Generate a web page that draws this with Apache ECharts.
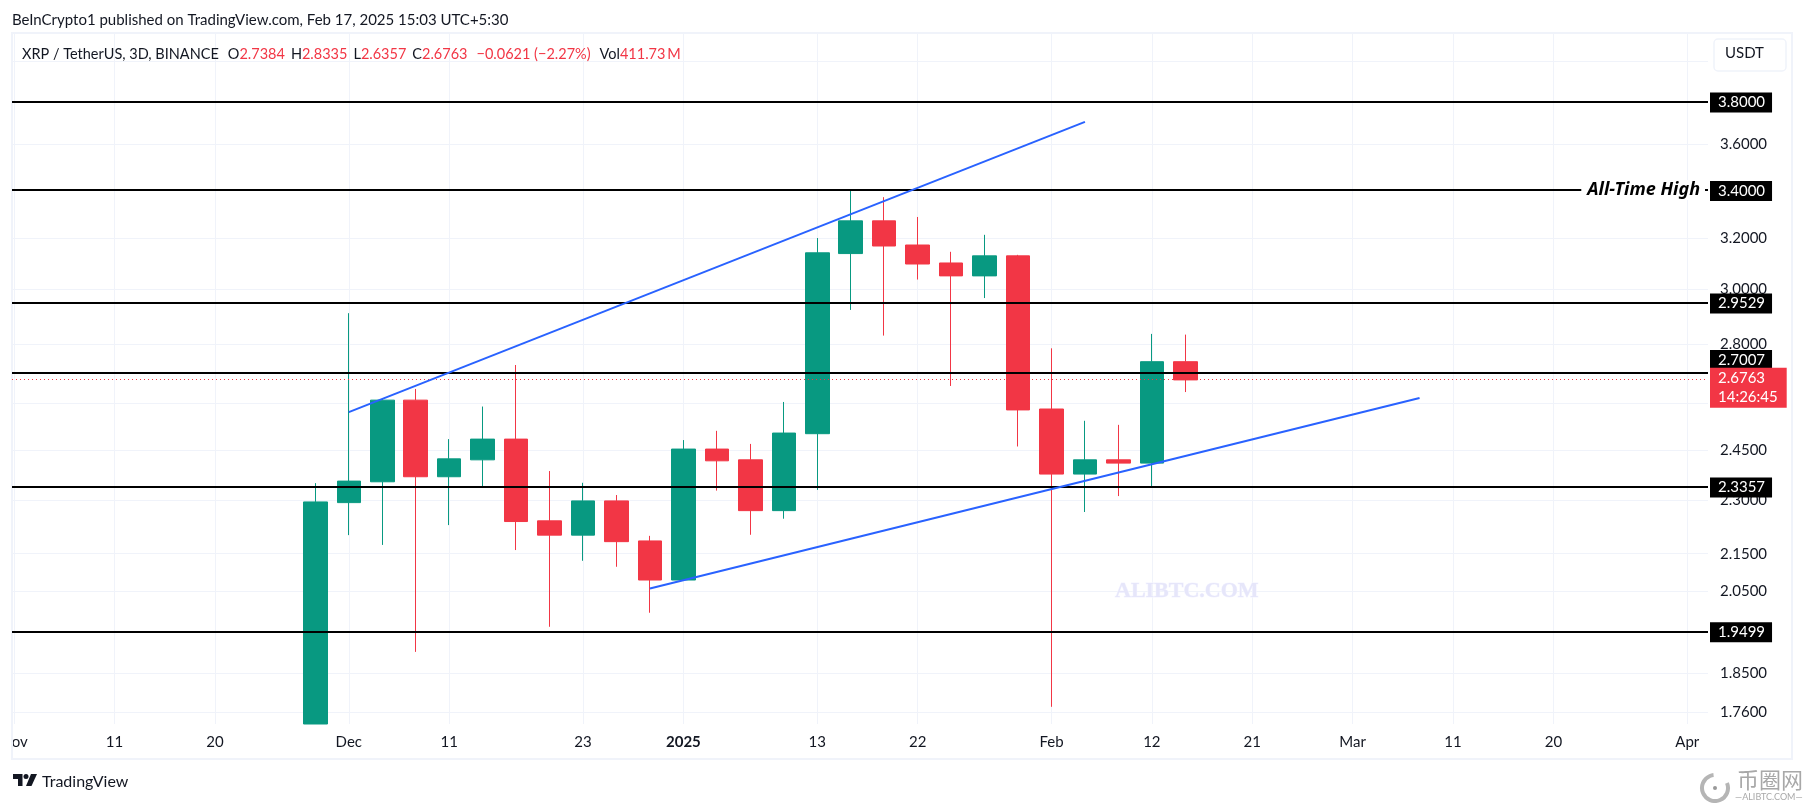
<!DOCTYPE html>
<html>
<head>
<meta charset="utf-8">
<title>XRP / TetherUS</title>
<style>
html, body { margin: 0; padding: 0; background: #fff; }
#chart_1 { width: 1804px; height: 803px; }
</style>
<script src="https://cdn.jsdelivr.net/npm/echarts@6/dist/echarts.min.js"></script>
</head>
<body>
<div id="chart_1"></div>
<script>
// 3D bars (first bar runs off the bottom of the pane)
var opens = [1.735, 2.293, 2.354, 2.609, 2.369, 2.420, 2.484, 2.241, 2.201, 2.298, 2.185, 2.080, 2.453, 2.420, 2.270, 2.501, 3.138, 3.270, 3.172, 3.101, 3.051, 3.129, 2.580, 2.377, 2.420, 2.410, 2.7384];
var closes = [2.295, 2.356, 2.609, 2.369, 2.423, 2.484, 2.239, 2.201, 2.298, 2.183, 2.080, 2.453, 2.417, 2.270, 2.503, 3.141, 3.270, 3.168, 3.097, 3.051, 3.129, 2.577, 2.377, 2.420, 2.410, 2.7384, 2.6763];
var lows = [1.735, 2.201, 2.174, 1.900, 2.229, 2.338, 2.160, 1.961, 2.131, 2.115, 1.996, 2.078, 2.328, 2.202, 2.247, 2.330, 2.923, 2.830, 3.037, 2.656, 2.967, 2.461, 1.773, 2.266, 2.312, 2.340, 2.6357];
var highs = [2.350, 2.911, 2.615, 2.646, 2.484, 2.588, 2.727, 2.386, 2.351, 2.315, 2.199, 2.481, 2.510, 2.469, 2.603, 3.200, 3.400, 3.369, 3.286, 3.145, 3.213, 3.133, 2.785, 2.542, 2.529, 2.836, 2.8335];

// time scale, counted in bars from the first candle
var barMin = -9.065;
var barMax = 41.62;
var tickBars = [-9, -6, -3, 1, 4, 8, 11, 15, 18, 22, 25, 28, 31, 34, 37, 41];
var tickLabels = ["Nov", "11", "20", "Dec", "11", "23", "2025", "13", "22", "Feb", "12", "21", "Mar", "11", "20", "Apr"];

// price scale
var priceMin = 1.735;
var priceMax = 4.143;
var gridPrices = [4.0, 3.8, 3.6, 3.4, 3.2, 3.0, 2.8, 2.6, 2.45, 2.3, 2.15, 2.05, 1.95, 1.85, 1.76];
var labelPrices = [3.6, 3.2, 3.0, 2.8, 2.45, 2.3, 2.15, 2.05, 1.85, 1.76];
var levelPrices = [3.8, 3.4, 2.9529, 2.7007, 2.3357, 1.9499];
var lastPrice = 2.6763;
var countdown = "14:26:45";

// trend lines
var upperBars = [1, 23];
var upperPrices = [2.570, 3.704];
var lowerBars = [10, 33];
var lowerPrices = [2.058, 2.616];

var FONT = "Lato";
var TEXT = "#131722";
var GREEN = "#089981";
var RED = "#F23645";

function buildCandles() {
	var list = [];
	for (var i = 0; i < opens.length; i++) {
		list.push([i, opens[i], closes[i], lows[i], highs[i]]);
	}
	return list;
}

function buildLine(bars, prices) {
	var list = [];
	for (var i = 0; i < bars.length; i++) {
		list.push([bars[i], prices[i]]);
	}
	return list;
}

function buildLevels() {
	var list = [];
	for (var i = 0; i < levelPrices.length; i++) {
		list.push({
			yAxis: levelPrices[i],
			lineStyle: { color: "#000", width: 2, type: "solid" },
			label: {
				show: true,
				position: "end",
				distance: 2,
				formatter: levelPrices[i].toFixed(4),
				color: "#fff",
				fontFamily: FONT,
				fontSize: 15,
				lineHeight: 15,
				backgroundColor: "#000",
				padding: [3, 7, 2, 8],
				offset: levelPrices[i] == 2.7007 ? [0, -13] : [0, 1]
			}
		});
	}
	// 标注文字盖在3.4线上
	list.push({
		yAxis: 3.4,
		lineStyle: { color: "#000", width: 2, type: "solid" },
		label: {
			show: true,
			position: "insideEnd",
			distance: 3,
			formatter: "All-Time High",
			color: "#000",
			fontFamily: "Noto Sans",
			fontSize: 18,
			fontStyle: "italic",
			fontWeight: "bold",
			backgroundColor: "#fff",
			padding: [1, 5, 1, 6]
		}
	});
	// 现价
	list.push({
		yAxis: lastPrice,
		lineStyle: { color: RED, width: 1, type: [1, 3] },
		label: {
			show: true,
			position: "end",
			distance: 2,
			formatter: "{p|" + lastPrice.toFixed(4) + "}\n{t|" + countdown + "}",
			backgroundColor: RED,
			padding: [1, 9, 1, 8],
			offset: [0, 9],
			rich: {
				p: { color: "#fff", fontFamily: FONT, fontSize: 15, lineHeight: 19 },
				t: { color: "#fff", fontFamily: FONT, fontSize: 15, lineHeight: 19 }
			}
		}
	});
	return list;
}

var legendText = "{k|XRP / TetherUS, 3D, BINANCE}{w|}{k|O}{v|2.7384}{g|}{k|H}{v|2.8335}{g|}{k|L}{v|2.6357}{g|}{k|C}{v|2.6763}{w|}{v|\u22120.0621 (\u22122.27%)}{w|}{k|Vol}{v|411.73\u2009M}";

var option = {
	animation: false,
	backgroundColor: "#fff",
	title: [{
		text: "BeInCrypto1 published on TradingView.com, Feb 17, 2025 15:03 UTC+5:30",
		left: 12,
		top: 13,
		padding: 0,
		textStyle: { color: TEXT, fontFamily: FONT, fontSize: 15, fontWeight: "normal" }
	}, {
		text: legendText,
		left: 22,
		top: 45,
		padding: 0,
		textStyle: {
			fontWeight: "normal",
			rich: {
				k: { color: TEXT, fontFamily: FONT, fontSize: 14.5, fontWeight: "normal" },
				v: { color: RED, fontFamily: FONT, fontSize: 14.5, fontWeight: "normal" },
				g: { width: 6 },
				w: { width: 9 }
			}
		}
	}],
	grid: { left: 12, top: 33, right: 96, bottom: 79, outerBoundsMode: "none" },
	xAxis: {
		type: "value",
		min: barMin,
		max: barMax,
		axisLine: { show: false },
		axisTick: { show: false, customValues: tickBars },
		splitLine: { show: true, lineStyle: { color: "#F0F3FA", width: 1 } },
		axisLabel: {
			customValues: tickBars,
			margin: 11,
			color: TEXT,
			fontFamily: FONT,
			fontSize: 15,
			formatter: function(val) {
				var text = tickLabels[tickBars.indexOf(val)];
				return text == "2025" ? "{b|" + text + "}" : text;
			},
			rich: {
				b: { color: TEXT, fontFamily: FONT, fontSize: 15, fontWeight: "bold" }
			}
		}
	},
	yAxis: {
		type: "log",
		position: "right",
		min: priceMin,
		max: priceMax,
		axisLine: { show: false },
		axisTick: { show: false, customValues: gridPrices },
		splitLine: { show: true, lineStyle: { color: "#F0F3FA", width: 1 } },
		minorSplitLine: { show: false },
		axisLabel: {
			customValues: labelPrices,
			margin: 12,
			color: TEXT,
			fontFamily: FONT,
			fontSize: 15,
			formatter: function(val) {
				return val.toFixed(4);
			}
		}
	},
	series: [{
		type: "candlestick",
		data: buildCandles(),
		encode: { x: 0, y: [1, 2, 3, 4] },
		barWidth: 24,
		silent: true,
		itemStyle: { color: GREEN, color0: RED, borderColor: GREEN, borderColor0: RED, borderWidth: 1 }
	}, {
		type: "line",
		data: [],
		silent: true,
		z: 4,
		markLine: { silent: true, symbol: "none", animation: false, data: buildLevels() }
	}, {
		type: "line",
		data: buildLine(upperBars, upperPrices),
		showSymbol: false,
		silent: true,
		z: 5,
		lineStyle: { color: "#2962FF", width: 2 }
	}, {
		type: "line",
		data: buildLine(lowerBars, lowerPrices),
		showSymbol: false,
		silent: true,
		z: 5,
		lineStyle: { color: "#2962FF", width: 2 }
	}],
	graphic: [
		// 外框
		{ type: "rect", silent: true, z: 3, shape: { x: 12, y: 33, width: 1780, height: 726 }, style: { fill: "none", stroke: "#F0F3FA", lineWidth: 2 } },
		// 盖住 Nov 左半
		{ type: "rect", silent: true, z: 2, shape: { x: 0, y: 725, width: 12, height: 30 }, style: { fill: "#fff" } },
		// USDT
		{ type: "rect", silent: true, z: 10, shape: { x: 1714, y: 39, width: 72, height: 32, r: 4 }, style: { fill: "#fff", stroke: "#F0F3FA", lineWidth: 1.5 } },
		{ type: "text", silent: true, z: 11, x: 1725, y: 46, style: { text: "USDT", fill: TEXT, font: "15px " + FONT } },
		// 水印
		{ type: "text", silent: true, z: 6, x: 1115, y: 580, style: { text: "ALIBTC.COM", fill: "#E6E6FA", font: "bold 22px 'Liberation Serif'", stroke: "#F5F5FF", lineWidth: 1 } },
		// TradingView
		{ type: "polygon", silent: true, z: 6, shape: { points: [[13, 774], [22.5, 774], [22.5, 786], [18, 786], [18, 779], [13, 779]] }, style: { fill: TEXT } },
		{ type: "polygon", silent: true, z: 6, shape: { points: [[31, 774], [37, 774], [31.5, 786], [26, 786]] }, style: { fill: TEXT } },
		{ type: "circle", silent: true, z: 6, shape: { cx: 26, cy: 776.5, r: 2.5 }, style: { fill: TEXT } },
		{ type: "text", silent: true, z: 6, x: 42, y: 774, style: { text: "TradingView", fill: TEXT, font: "16px " + FONT } },
		// 右下角
		{ type: "arc", silent: true, z: 6, shape: { cx: 1715, cy: 788, r: 13, startAngle: -0.4, endAngle: 4.6 }, style: { fill: "none", stroke: "#B5B5B5", lineWidth: 4 } },
		{ type: "circle", silent: true, z: 6, shape: { cx: 1715, cy: 788, r: 2 }, style: { fill: "#999" } },
		{ type: "text", silent: true, z: 6, x: 1737, y: 769, style: { text: "币圈网", fill: "#A8A8A8", font: "22px 'Noto Sans CJK SC'" } },
		{ type: "text", silent: true, z: 6, x: 1735, y: 793, style: { text: "\u2014ALIBTC.COM\u2014", fill: "#A8A8A8", font: "9px " + FONT } }
	]
};

var myChart = echarts.init(document.getElementById("chart_1"));
myChart.setOption(option);
</script>
</body>
</html>
